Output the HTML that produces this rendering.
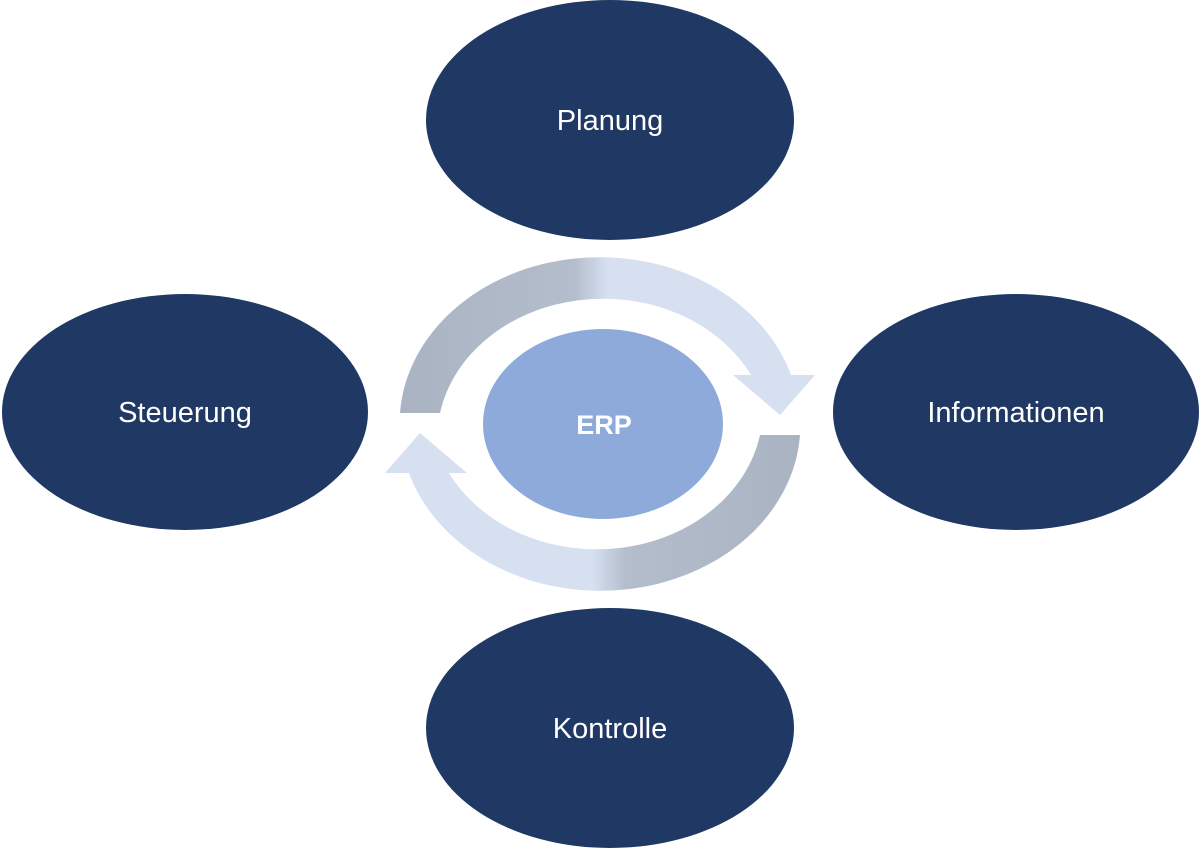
<!DOCTYPE html>
<html><head><meta charset="utf-8"><style>html,body{margin:0;padding:0;background:#fff}svg{display:block}</style></head>
<body>
<svg width="1200" height="848" viewBox="0 0 1200 848" xmlns="http://www.w3.org/2000/svg">
<defs>
<linearGradient id="g1" x1="400" y1="0" x2="815" y2="0" gradientUnits="userSpaceOnUse">
<stop offset="0" stop-color="#a9b3c2"/><stop offset="0.42" stop-color="#b3bdcc"/><stop offset="0.5" stop-color="#d6e0f0"/><stop offset="1" stop-color="#d6e0f0"/>
</linearGradient>
</defs>
<g font-family="Liberation Sans, sans-serif" fill="#fff" text-anchor="middle">
<ellipse cx="610" cy="120" rx="184" ry="120" fill="#1f3864"/>
<ellipse cx="185" cy="412" rx="183" ry="118" fill="#1f3864"/>
<ellipse cx="1016" cy="412" rx="183" ry="118" fill="#1f3864"/>
<ellipse cx="610" cy="728" rx="184" ry="120" fill="#1f3864"/>
<path d="M 400 413 A 200 166 0 0 1 791 375 L 815 375 L 780 415 L 733 375 L 751 375 A 166 140 0 0 0 440 413 Z" fill="url(#g1)"/>
<path d="M 400 413 A 200 166 0 0 1 791 375 L 815 375 L 780 415 L 733 375 L 751 375 A 166 140 0 0 0 440 413 Z" fill="url(#g1)" transform="rotate(180 600 424)"/>
<ellipse cx="603" cy="424" rx="120" ry="95" fill="#8eaadb"/>
<text x="610" y="130" font-size="29">Planung</text>
<text x="185" y="422" font-size="29">Steuerung</text>
<text x="1016" y="422" font-size="29">Informationen</text>
<text x="610" y="738" font-size="29">Kontrolle</text>
<text x="604" y="434" font-size="27" font-weight="bold">ERP</text>
</g>
</svg>
</body></html>
